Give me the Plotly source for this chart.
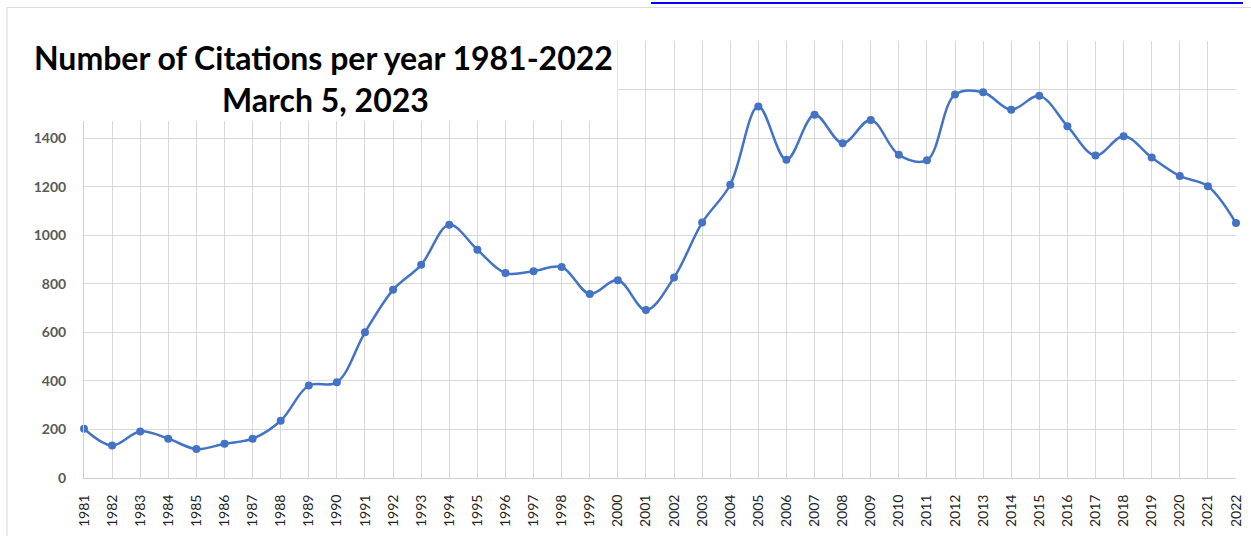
import plotly.graph_objects as go

years = list(range(1981, 2023))
citations = [203, 134, 192, 162, 119, 141, 162, 236, 381, 394,
             600, 775, 878, 1043, 940, 844, 852, 869, 758, 815,
             692, 826, 1052, 1208, 1530, 1311, 1496, 1379, 1475, 1331,
             1309, 1580, 1589, 1517, 1574, 1449, 1328, 1408, 1320, 1244,
             1202, 1050]
y_ticks = list(range(0, 2000, 200))
y_labels = [str(v) if v <= 1400 else "" for v in y_ticks]
title_lines = ["Number of Citations per year 1981-2022", "March 5, 2023"]

W, H = 1251, 536
L, R, T, B = 84, 7, 41, 58
PW, PH = W - L - R, H - T - B


def px(x):
    return (x - L) / PW


def py(y):
    return (H - B - y) / PH


fig = go.Figure()
fig.add_trace(go.Scatter(
    x=years, y=citations, mode="lines+markers",
    line=dict(color="#4472C4", width=2.5, shape="spline", smoothing=1),
    marker=dict(color="#4472C4", size=8),
    cliponaxis=False, showlegend=False,
))

fig.update_layout(
    width=W, height=H,
    margin=dict(l=L, r=R, t=T, b=B, pad=0),
    paper_bgcolor="white", plot_bgcolor="white",
    xaxis=dict(
        range=[1981, 2022], tickmode="array", tickvals=years,
        ticktext=[str(y) for y in years], tickangle=-90,
        showgrid=True, gridcolor="#D9D9D9", gridwidth=1,
        showline=True, linecolor="#D0D0D0", linewidth=1,
        zeroline=False, ticks="", ticklabelstandoff=10,
        ticklabeloverflow="allow",
        tickfont=dict(family="Lato", size=14, color="#222222"),
    ),
    yaxis=dict(
        range=[0, 1800], tickmode="array", tickvals=y_ticks, ticktext=y_labels,
        showgrid=True, gridcolor="#D9D9D9", gridwidth=1,
        showline=True, linecolor="#D0D0D0", linewidth=1,
        zeroline=False, ticks="", ticklabelstandoff=14,
        tickfont=dict(family="Lato", size=14, color="#595959", weight="bold"),
    ),
    shapes=[
        dict(type="rect", xref="paper", yref="paper",
             x0=px(6.5), x1=px(1300), y0=py(600), y1=py(7.5),
             line=dict(color="#D9D9D9", width=1), fillcolor="rgba(0,0,0,0)",
             layer="above"),
        dict(type="rect", xref="paper", yref="paper",
             x0=px(7.5), x1=px(621), y0=py(121), y1=py(8.5),
             line=dict(width=0), fillcolor="white", layer="above"),
        dict(type="line", xref="paper", yref="paper",
             x0=px(655), x1=px(1251), y0=py(3), y1=py(3),
             line=dict(color="#0000FF", width=2), layer="above"),
    ],
    annotations=[
        dict(text=title_lines[0], xref="paper", yref="paper",
             x=px(325), y=py(57), xanchor="center", yanchor="middle",
             showarrow=False,
             font=dict(family="Lato", size=32, color="#000000", weight="bold")),
        dict(text=title_lines[1], xref="paper", yref="paper",
             x=px(327), y=py(99), xanchor="center", yanchor="middle",
             showarrow=False,
             font=dict(family="Lato", size=32, color="#000000", weight="bold")),
    ],
)

fig.write_html(
    "out.html",
    config={"displayModeBar": False},
    post_script="document.body.style.margin='0';document.body.style.overflow='hidden';",
)
